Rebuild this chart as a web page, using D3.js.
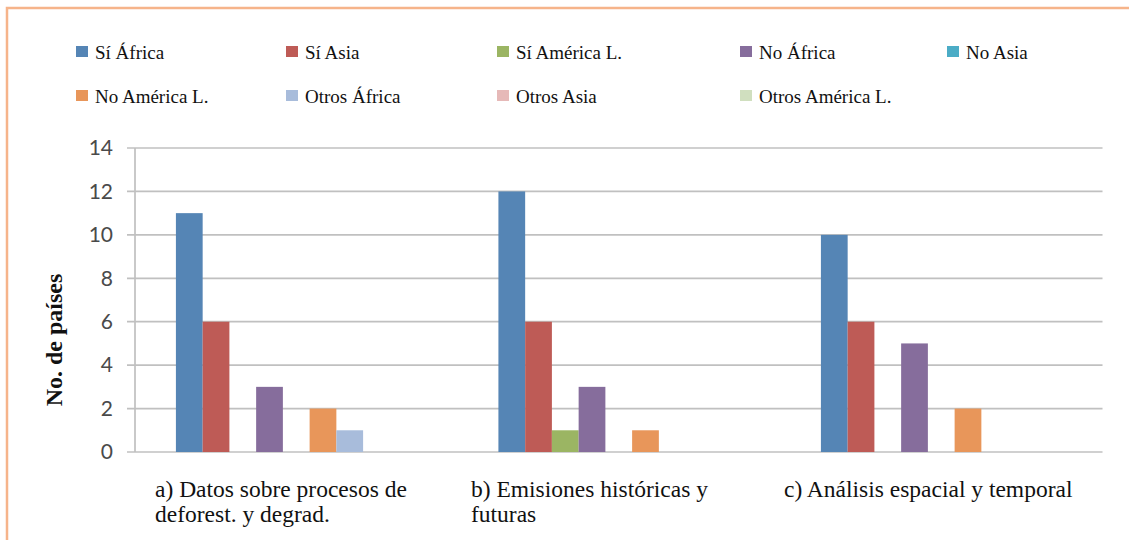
<!DOCTYPE html>
<html>
<head>
<meta charset="utf-8">
<script src="https://cdn.jsdelivr.net/npm/d3@7"></script>
<style>
  html, body { margin: 0; padding: 0; background: #fff; }
  svg text { fill: #111; }
  .serif { font-family: "Liberation Serif", "Times New Roman", serif; }
</style>
</head>
<body>
<div id="chart"></div>
<script>
// categories (x axis), each split in its wrapped lines
var categories = ["a", "b", "c"];
var categoryLines = [
    ["a) Datos sobre procesos de", "deforest. y degrad."],
    ["b) Emisiones históricas y", "futuras"],
    ["c) Análisis espacial y temporal"]
];

// series names and values per category
var seriesNames = [
    "Sí África", "Sí Asia", "Sí América L.",
    "No África", "No Asia", "No América L.",
    "Otros África", "Otros Asia", "Otros América L."
];
var siAfrica = [11, 12, 10],
    siAsia = [6, 6, 6],
    siAmerica = [0, 1, 0],
    noAfrica = [3, 3, 5],
    noAsia = [0, 0, 0],
    noAmerica = [2, 1, 2],
    otrosAfrica = [1, 0, 0],
    otrosAsia = [0, 0, 0],
    otrosAmerica = [0, 0, 0];
var seriesValues = [siAfrica, siAsia, siAmerica, noAfrica, noAsia, noAmerica, otrosAfrica, otrosAsia, otrosAmerica];

var yTicks = [0, 2, 4, 6, 8, 10, 12, 14];

var colors = [
    "#5585b5", "#be5b56", "#9bb563",
    "#866d9c", "#4bacc6", "#e8965a",
    "#a8bcdb", "#e6b9b8", "#d0dfbf"
];
var color = d3.scaleOrdinal().domain(seriesNames).range(colors);

var width = 1129, height = 540;
var margin = {top: 148, left: 135, right: 1129 - 1102.5, bottom: 540 - 452};
var plotW = width - margin.left - margin.right,
    plotH = height - margin.top - margin.bottom;

var svg = d3.select("#chart").append("svg")
    .attr("width", width)
    .attr("height", height);

// orange frame (top and left edges visible)
svg.append("path")
    .attr("d", "M7,540 V8 H1129")
    .attr("fill", "none")
    .attr("stroke", "#f6b48a")
    .attr("stroke-width", 2.5);

var g = svg.append("g")
    .attr("transform", "translate(" + margin.left + "," + margin.top + ")");

var x0 = d3.scaleBand().domain(categories).range([0, plotW]).padding(0);
var x1 = d3.scaleBand().domain(seriesNames).range([0, x0.bandwidth()])
    .paddingInner(0).paddingOuter(1.53);
var y = d3.scaleLinear().domain([0, 14]).range([plotH, 0]);

// gridlines
g.append("g")
    .selectAll("line")
    .data(yTicks)
    .join("line")
    .attr("x1", -8)
    .attr("x2", plotW)
    .attr("y1", d => y(d))
    .attr("y2", d => y(d))
    .attr("stroke", "#c0c0c0")
    .attr("stroke-width", 1.7);

// y axis line
g.append("line")
    .attr("x1", 0).attr("x2", 0)
    .attr("y1", y(14)).attr("y2", y(0))
    .attr("stroke", "#c0c0c0")
    .attr("stroke-width", 1.7);

// y tick labels
g.append("g")
    .selectAll("text")
    .data(yTicks)
    .join("text")
    .attr("x", -22)
    .attr("y", d => y(d))
    .attr("dy", "0.35em")
    .attr("text-anchor", "end")
    .attr("font-family", "Lato, 'Liberation Sans', sans-serif")
    .attr("font-size", 21)
    .style("fill", "#4a4a4a")
    .text(d => d);

// bars
var rows = [];
categories.forEach(function(c, ci) {
    seriesNames.forEach(function(s, si) {
        rows.push({cat: c, series: s, val: seriesValues[si][ci]});
    });
});

g.append("g")
    .selectAll("rect")
    .data(rows.filter(d => d.val > 0))
    .join("rect")
    .attr("x", d => x0(d.cat) + x1(d.series))
    .attr("y", d => y(d.val))
    .attr("width", x1.bandwidth())
    .attr("height", d => y(0) - y(d.val))
    .attr("fill", d => color(d.series));

// x category labels (wrapped, left aligned)
var labelOffsets = [20, 13.5, 4];
var xl = g.append("g")
    .selectAll("text")
    .data(categories)
    .join("text")
    .attr("class", "serif")
    .attr("transform", (d, i) => "translate(" + (x0(d) + labelOffsets[i]) + "," + (plotH + 45) + ")")
    .attr("font-size", 23.5);
xl.selectAll("tspan")
    .data((d, i) => categoryLines[i])
    .join("tspan")
    .attr("x", 0)
    .attr("y", (d, i) => i * 25)
    .text(d => d);

// y axis title
svg.append("text")
    .attr("class", "serif")
    .attr("transform", "translate(62,340) rotate(-90)")
    .attr("text-anchor", "middle")
    .attr("font-weight", "bold")
    .attr("font-size", 24)
    .text("No. de países");

// legend, two rows
var legendCols = [76, 286, 497, 740, 947];
var legendRows = [52, 96];
var legend = svg.append("g")
    .selectAll("g")
    .data(seriesNames)
    .join("g")
    .attr("transform", (d, i) => "translate(" + legendCols[i % 5] + "," + legendRows[Math.floor(i / 5)] + ")");
legend.append("rect")
    .attr("x", 0).attr("y", -6)
    .attr("width", 12).attr("height", 11)
    .attr("fill", d => color(d));
legend.append("text")
    .attr("class", "serif")
    .attr("x", 19)
    .attr("dy", "0.35em")
    .attr("font-size", 19)
    .text(d => d);
</script>
</body>
</html>
